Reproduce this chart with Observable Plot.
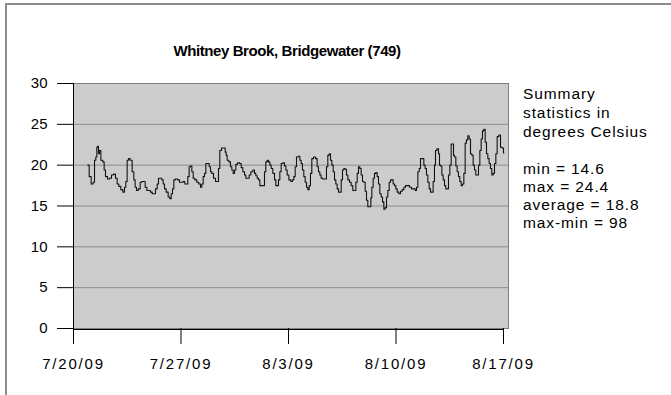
<!DOCTYPE html>
<html>
<head>
<meta charset="utf-8">
<script src="https://cdn.jsdelivr.net/npm/d3@7"></script>
<script src="https://cdn.jsdelivr.net/npm/@observablehq/plot@0.6"></script>
<style>
  html, body { margin: 0; padding: 0; background: #fff; }
  #wrap { position: relative; width: 671px; height: 395px; overflow: hidden; font-family: "Liberation Sans", Arial, sans-serif; }
  #frame { position: absolute; left: 5px; top: 3px; width: 900px; height: 600px; border: 2px solid #8c8c8c; box-sizing: border-box; }
  #chart { position: absolute; left: 0; top: 0; }
  #title { position: absolute; left: 87px; width: 400px; top: 42px; text-align: center; font-weight: bold; font-size: 15px; letter-spacing: -0.4px; color: #000; }
  .leg { position: absolute; left: 523px; font-size: 15.5px; letter-spacing: 0.9px; color: #000; white-space: nowrap; line-height: 1; }
  #chart svg g[aria-label="x-axis tick label"] text { letter-spacing: 1.8px; }
</style>
</head>
<body>
<div id="wrap">
  <div id="frame"></div>
  <div id="chart"></div>
  <div id="title"></div>
</div>
<script>
const chartTitle = "Whitney Brook, Bridgewater (749)";
const startDate = "2009-07-20T00:00:00Z";
// hours since 7/20/09 00:00
const hours = [
  22.4,26.6,28.7,29.7,31.8,33.9,35.9,37.0,38.0,40.1,41.2,44.3,47.4,48.4,51.6,54.7,57.8,60.9,64.1,67.2,
  69.3,72.4,75.5,78.7,80.7,82.8,84.9,87.0,90.1,93.2,95.3,97.4,99.5,102.6,105.8,107.8,111.0,113.0,116.2,119.3,
  121.4,124.5,126.6,129.7,131.8,133.9,137.0,139.1,141.2,143.3,146.4,149.5,151.6,153.7,155.8,157.8,161.0,164.1,167.2,170.3,
  172.4,175.6,177.6,179.7,181.8,183.9,186.0,188.1,191.2,194.3,197.4,199.5,201.6,203.7,205.8,207.9,211.0,213.1,215.1,217.2,
  220.4,223.5,225.6,227.6,229.7,232.9,236.0,238.1,239.1,241.2,244.3,246.4,248.5,250.6,252.7,254.7,257.9,261.0,263.1,266.2,
  268.3,270.4,273.5,275.6,278.7,281.8,283.9,286.0,288.1,290.2,292.2,294.3,297.5,299.5,301.6,303.7,305.8,307.9,310.0,313.1,
  315.2,317.2,319.3,321.4,323.5,325.6,328.7,330.8,332.9,335.0,338.1,341.2,343.3,345.4,347.5,349.5,352.7,354.8,356.8,358.9,
  361.0,363.1,365.2,367.3,369.3,371.4,373.5,376.6,379.8,381.8,383.9,386.0,388.1,391.2,394.3,396.4,398.5,400.6,402.7,404.8,
  406.9,408.9,411.0,413.1,415.2,417.3,419.4,421.4,423.5,425.6,427.7,429.8,432.9,435.0,438.1,440.2,442.3,444.4,446.4,448.5,
  450.6,452.7,454.8,456.9,458.9,461.0,464.2,465.2,467.3,469.4,471.4,473.5,475.6,477.7,479.8,481.9,484.0,486.0,488.1,490.2,
  492.3,494.4,496.4,498.5,500.6,502.7,504.8,506.9,510.0,512.1,515.2,517.3,520.4,523.5,526.7,529.8,532.9,535.0,537.1,539.2,
  541.3,543.3,546.5,548.5,550.6,552.7,554.8,556.9,559.0,561.0,563.1,565.2,566.3,569.4,571.5,572.5,574.6,576.7,578.8,580.8,
  582.9,585.0,587.1,589.2,591.3,593.4,594.4,596.5,598.6,600.6,602.7,604.8,606.9,609.0,611.1,613.1,615.2,617.3,619.4,621.5,
  623.6,625.6,627.7,629.8,631.9,634.0,636.1,638.1,640.2,642.3,644.4,646.5,648.6,650.6,652.7,654.8,656.9,659.0,661.1,663.1,
  666.3,668.4,671.5,672.5
];
// water temperature, degrees Celsius
const temps = [
  20.0,18.6,17.7,17.7,17.9,20.6,21.0,22.2,22.3,21.4,21.8,20.6,20.4,19.4,18.6,18.3,18.4,18.8,18.9,18.4,
  17.7,17.4,17.0,16.7,17.3,18.0,20.6,20.8,20.6,19.2,18.2,17.3,16.9,17.1,17.9,18.0,18.0,17.3,16.9,16.9,
  16.7,16.5,16.5,17.1,17.7,18.4,18.4,18.2,17.7,17.1,16.7,16.1,15.9,16.5,17.1,18.2,18.3,18.2,17.9,17.9,
  18.0,17.7,17.7,18.6,19.8,19.9,19.2,18.4,18.2,17.9,17.7,17.3,17.7,18.6,19.0,20.2,20.2,19.8,19.2,19.0,
  18.4,18.0,18.0,19.6,21.8,22.1,22.1,21.6,21.2,20.6,20.4,19.8,19.4,19.0,19.4,20.1,20.3,20.2,19.7,19.2,
  18.8,18.4,18.4,18.8,19.2,19.4,19.0,18.7,18.4,18.2,17.5,17.5,17.5,19.2,20.4,20.6,20.4,20.0,19.6,19.0,
  18.2,17.5,17.5,18.2,19.2,20.2,20.3,19.9,19.4,18.8,18.2,18.0,18.2,18.6,19.8,21.0,21.1,20.6,20.2,19.4,
  18.6,17.9,17.3,17.0,17.5,19.0,20.8,21.0,20.8,19.8,19.2,18.8,18.4,18.3,18.3,19.8,21.2,21.4,20.6,20.0,
  19.2,18.2,17.7,17.1,16.7,16.7,18.2,19.4,19.6,19.5,18.8,18.2,17.9,17.5,16.9,16.9,17.9,19.0,19.8,19.6,
  18.8,18.0,17.9,16.8,15.7,14.9,14.9,16.0,17.3,18.4,19.0,19.1,18.6,17.7,16.5,16.1,15.5,14.6,14.8,16.1,
  16.9,17.9,18.2,18.2,17.7,17.5,17.1,16.7,16.5,16.8,17.0,17.3,17.5,17.5,17.3,17.1,17.1,16.9,17.3,19.2,
  19.6,20.8,20.8,20.0,19.6,18.8,17.9,17.1,16.7,16.7,18.0,20.0,21.8,22.0,21.4,20.0,19.9,18.8,18.2,17.5,
  17.1,17.1,18.8,20.0,22.6,22.6,21.2,21.0,19.9,19.2,18.6,18.0,17.5,17.7,19.0,22.7,23.1,23.6,23.2,21.4,
  21.2,20.0,19.4,18.8,18.8,20.0,21.8,23.2,24.2,24.4,22.8,21.4,20.8,20.2,19.6,18.8,19.0,20.2,21.4,23.5,
  23.7,22.2,22.1,21.5
];
const yTicks = [0, 5, 10, 15, 20, 25, 30];
const gridValues = [5, 10, 15, 20, 25];
const xTickDates = ["2009-07-20", "2009-07-27", "2009-08-03", "2009-08-10", "2009-08-17"];
const xTickLabels = ["7/20/09", "7/27/09", "8/3/09", "8/10/09", "8/17/09"];
const xDomainEnd = "2009-08-17T07:50:00Z";
const summaryHead = ["Summary", "statistics in", "degrees Celsius"];
const summaryStats = ["min = 14.6", "max = 24.4", "average = 18.8", "max-min = 98"];

const t0 = new Date(startDate).getTime();
const data = hours.map((h, i) => ({date: new Date(t0 + h * 3600000), temp: temps[i]}));
const tickDates = xTickDates.map(s => new Date(s + "T00:00:00Z"));
const labelFor = new Map(tickDates.map((d, i) => [+d, xTickLabels[i]]));

const chart = Plot.plot({
  width: 671,
  height: 395,
  marginLeft: 73,
  marginRight: 163,
  marginTop: 83,
  marginBottom: 67,
  style: {fontFamily: "'Liberation Sans', Arial, sans-serif", fontSize: "15px", background: "transparent", color: "#000", overflow: "visible"},
  x: {type: "utc", domain: [tickDates[0], new Date(xDomainEnd)], label: null},
  y: {domain: [0, 30], label: null},
  marks: [
    Plot.frame({fill: "#cccccc", stroke: "#7f7f7f"}),
    Plot.ruleY(gridValues, {stroke: "#8c8c8c", strokeWidth: 1}),
    Plot.line(data, {x: "date", y: "temp", stroke: "#111", strokeWidth: 1.1, curve: "step"}),
    Plot.ruleX([tickDates[0]], {y1: 0, y2: 30, stroke: "#000"}),
    Plot.ruleY([0], {x1: tickDates[0], x2: tickDates[tickDates.length - 1], stroke: "#000", dy: 1}),
    Plot.axisY({ticks: yTicks, tickSize: 16, tickPadding: 10, tickFormat: d => String(d), fontSize: 15, stroke: "#000", label: null}),
    Plot.axisX({ticks: tickDates, tickSize: 16, tickPadding: 14, tickFormat: d => labelFor.get(+d), fontSize: 15, stroke: "#000", label: null})
  ]
});
document.getElementById("chart").appendChild(chart);
document.getElementById("title").textContent = chartTitle;

const wrap = document.getElementById("wrap");
const headTops = [86, 105, 124];
const statTops = [161, 179, 197, 215];
summaryHead.forEach((s, i) => {
  const d = document.createElement("div");
  d.className = "leg"; d.style.top = headTops[i] + "px"; d.textContent = s; wrap.appendChild(d);
});
summaryStats.forEach((s, i) => {
  const d = document.createElement("div");
  d.className = "leg"; d.style.top = statTops[i] + "px"; d.textContent = s; wrap.appendChild(d);
});
</script>
</body>
</html>
